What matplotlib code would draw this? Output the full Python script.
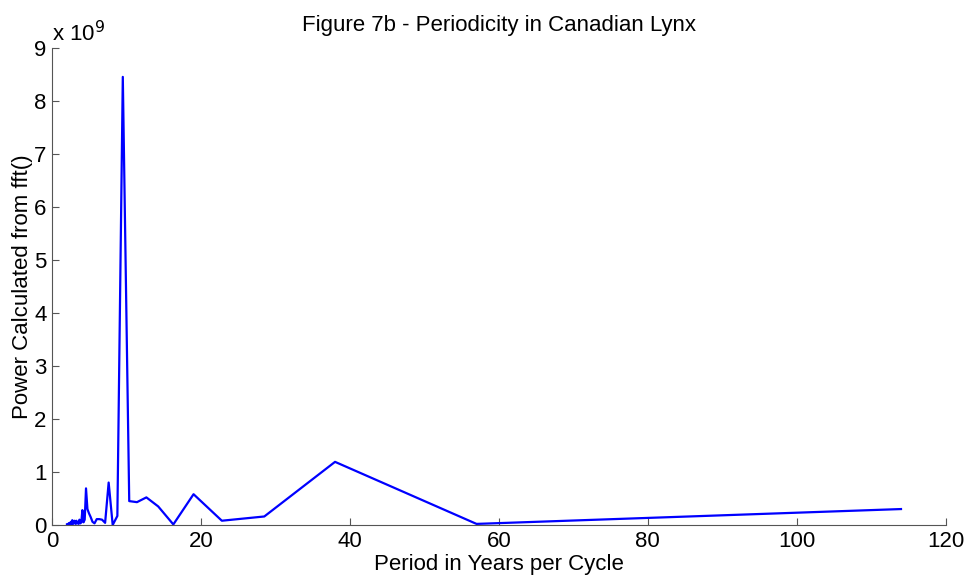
import matplotlib.pyplot as plt
import matplotlib.ticker as mticker

plt.rcParams['font.family'] = ['Liberation Sans', 'DejaVu Sans']

# ===== data =====
# fft over 114 yearly lynx counts, period = 114 / k for k = 1..57
n_years = 114
k_values = list(range(1, 58))
periods = [n_years / k for k in k_values]

# power in units of 1e9 (k = 1 .. 57)
power_e9 = [
    0.30, 0.02, 1.19, 0.16, 0.08, 0.58, 0.01, 0.35, 0.52, 0.43,   # k 1-10
    0.45, 8.45, 0.17, 0.00, 0.80, 0.04, 0.10, 0.11, 0.11, 0.03,   # k 11-20
    0.06, 0.15, 0.22, 0.30, 0.69, 0.10, 0.05, 0.28, 0.05, 0.03,   # k 21-30
    0.10, 0.02, 0.06, 0.03, 0.08, 0.02, 0.04, 0.08, 0.03, 0.05,   # k 31-40
    0.02, 0.09, 0.04, 0.02, 0.06, 0.03, 0.01, 0.04, 0.02, 0.03,   # k 41-50
    0.01, 0.02, 0.01, 0.02, 0.01, 0.01, 0.01,                     # k 51-57
]

x_ticks = [0, 20, 40, 60, 80, 100, 120]
y_ticks = [0, 1, 2, 3, 4, 5, 6, 7, 8, 9]

# ===== plot =====
fig = plt.figure(figsize=(9.64, 5.82), dpi=100)
ax = fig.add_axes([0.054, 0.098, 0.927, 0.820])

ax.plot(periods, power_e9, color="#0000ff", linewidth=1.6)

ax.set_xlim(0, 120)
ax.set_ylim(0, 9)
ax.set_xticks(x_ticks)
ax.set_yticks(y_ticks)
ax.yaxis.set_major_formatter(mticker.FormatStrFormatter("%d"))

for side in ["top", "right"]:
    ax.spines[side].set_visible(False)
for side in ["left", "bottom"]:
    ax.spines[side].set_color("#555555")
    ax.spines[side].set_linewidth(0.8)

ax.tick_params(direction="in", length=5, width=0.8, color="#555555",
               labelsize=16, pad=4)

ax.set_title("Figure 7b - Periodicity in Canadian Lynx", fontsize=16, pad=12)
ax.set_xlabel("Period in Years per Cycle", fontsize=16, labelpad=2)
ax.set_ylabel("Power Calculated from fft()", fontsize=16, labelpad=1)

# MATLAB-style exponent label
ax.text(0.0, 1.003, r"x 10$^{9}$", transform=ax.transAxes, fontsize=16,
        ha="left", va="bottom")

fig.savefig("out.png", dpi=100)
